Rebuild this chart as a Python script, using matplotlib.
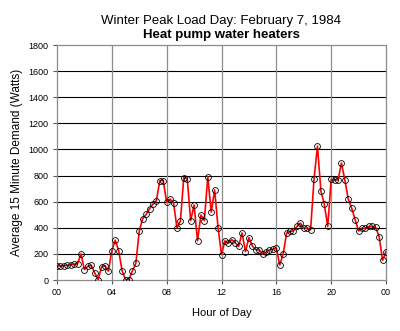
import numpy as np
import matplotlib
matplotlib.use("Agg")
import matplotlib.pyplot as plt

plt.rcParams['font.family'] = ['Liberation Sans', 'DejaVu Sans']

# 15-minute demand values (Watts), 0:00 .. 24:00
demand = [
    # 0h - 4h
    108, 108, 110, 112, 118, 120, 125, 200, 80, 105, 112, 55, 3, 100, 110, 68,
    # 4h - 8h
    225, 305, 225, 70, 3, 3, 70, 127, 375, 470, 502, 546, 582, 608, 762, 762,
    # 8h - 12h
    595, 620, 592, 400, 452, 785, 776, 455, 575, 300, 498, 455, 792, 520, 690, 400,
    # 12h - 16h
    195, 300, 282, 310, 285, 258, 360, 218, 325, 260, 232, 230, 200, 212, 232, 235,
    # 16h - 20h
    245, 115, 203, 359, 372, 377, 410, 436, 397, 397, 385, 774, 1026, 683, 579, 410,
    # 20h - 24h
    770, 768, 766, 896, 766, 618, 550, 462, 375, 397, 395, 410, 410, 403, 333, 151,
    218,
]
hours = np.arange(len(demand)) * 0.25

x_ticks = [0, 4, 8, 12, 16, 20, 24]
x_tick_labels = ["00", "04", "08", "12", "16", "20", "00"]
y_ticks = list(range(0, 1801, 200))

title1 = "Winter Peak Load Day: February 7, 1984"
title2 = "Heat pump water heaters"
xlabel = "Hour of Day"
ylabel = "Average 15 Minute Demand (Watts)"

fig = plt.figure(figsize=(4.0, 3.31), dpi=100)
ax = fig.add_axes([0.1425, 0.154, 0.8225, 0.71])

ax.set_xlim(0, 24)
ax.set_ylim(0, 1800)

# grid lines
for yv in y_ticks[1:-1]:
    ax.axhline(yv, color='black', lw=0.8, zorder=1)
for xv in x_ticks[1:-1]:
    ax.axvline(xv, color='#8c8c8c', lw=0.9, zorder=1)

ax.plot(hours, demand, color='#ff0000', lw=1.2, zorder=3,
        marker='o', markersize=4.2, markerfacecolor='none',
        markeredgecolor='black', markeredgewidth=0.6)

for s in ax.spines.values():
    s.set_color('#8c8c8c')
    s.set_linestyle((0, (2, 1)))
    s.set_linewidth(0.9)

ax.set_xticks(x_ticks)
ax.set_xticklabels(x_tick_labels)
ax.set_yticks(y_ticks)
ax.tick_params(axis='both', labelsize=6.5, length=3, width=0.8,
               color='#555555', pad=3)

ax.set_xlabel(xlabel, fontsize=8, labelpad=8)
ax.set_ylabel(ylabel, fontsize=8.5, labelpad=4)

fig.text(0.553, 0.937, title1, ha='center', va='center', fontsize=9.5)
fig.text(0.553, 0.893, title2, ha='center', va='center', fontsize=9.5,
         fontweight='bold')

fig.savefig("out.png", dpi=100)
